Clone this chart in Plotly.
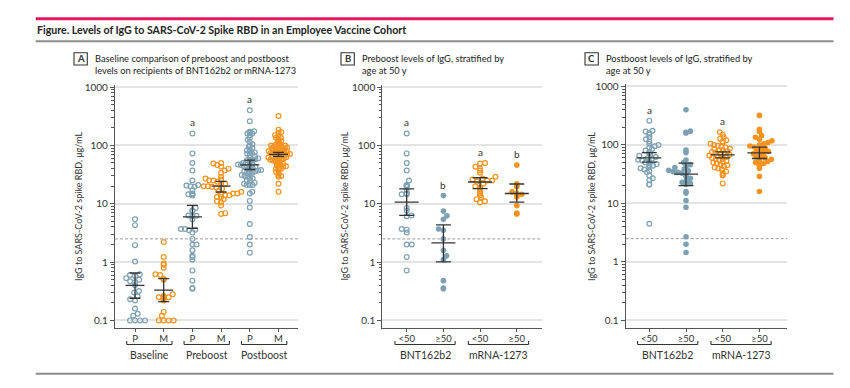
import numpy as np
import plotly.graph_objects as go

# ---------------- data (IgG, ug/mL) ----------------
baseline_P = [5.4, 4.3, 1.95, 1.02, 0.62, 0.6, 0.58, 0.53, 0.5, 0.47, 0.45, 0.4,
              0.32, 0.3, 0.26, 0.23, 0.22, 0.16, 0.13, 0.12, 0.1, 0.1, 0.1, 0.1]
baseline_M = [2.2, 1.22, 0.95, 0.9, 0.8, 0.62, 0.6, 0.52, 0.5, 0.28, 0.26, 0.26,
              0.25, 0.25, 0.25, 0.24, 0.22, 0.14, 0.12, 0.1, 0.1, 0.1, 0.1]

# Panel B: preboost, stratified by age
B_bnt_lt50 = [160, 73, 50, 37, 25, 21, 20.5, 20, 19.5, 17, 15, 14.5, 14.5, 8.5, 7.7,
              6.3, 6.1, 3.7, 3.6, 3.2, 2.0, 2.0, 1.22, 0.72]
B_bnt_ge50 = [13.8, 7.5, 6.2, 5.4, 3.7, 3.5, 2.5, 1.6, 1.28, 1.1, 0.48, 0.36, 0.35]
B_mrna_lt50 = [50, 49, 43, 40, 37, 34, 29, 27, 26, 25, 25, 24, 22, 20, 19, 18, 16.5,
               15, 14, 13, 12, 11, 10.5]
B_mrna_ge50 = [46, 22, 20, 19.5, 16, 15, 14.5, 14, 13, 9.3, 6.9, 6.7]

# Panel C: postboost, stratified by age
C_bnt_lt50 = [260, 175, 170, 160, 150, 135, 125, 115, 105, 100, 95, 90, 85, 80, 76,
              72, 68, 65, 62, 60, 58, 56, 54, 52, 50, 48, 47, 45, 44, 42, 40, 38, 36,
              34, 30, 27, 25, 21, 21, 4.5]
C_bnt_ge50 = [400, 172, 165, 160, 82, 74, 55, 50, 46, 43, 41, 39, 37, 36, 35, 34, 33,
              31, 29, 27, 25, 23, 22, 21, 16, 15, 11.2, 8.6, 2.7, 2.0, 1.45]
C_mrna_lt50 = [165, 150, 135, 128, 120, 115, 110, 105, 100, 97, 94, 90, 87, 85, 82,
               80, 78, 76, 74, 72, 70, 68, 66, 65, 63, 62, 60, 58, 57, 55, 53, 52, 50,
               48, 46, 45, 43, 41, 40, 38, 35, 33, 31, 30, 22]
C_mrna_ge50 = [320, 185, 170, 145, 135, 125, 118, 110, 105, 100, 96, 92, 88, 84, 80,
               77, 74, 71, 68, 65, 62, 60, 57, 55, 52, 50, 48, 46, 44, 40, 29, 16]

preboost_P = B_bnt_lt50 + B_bnt_ge50
preboost_M = B_mrna_lt50 + B_mrna_ge50
postboost_P = C_bnt_lt50 + C_bnt_ge50
postboost_M = C_mrna_lt50 + C_mrna_ge50

# geometric means with 95% CI
A_gm = [0.40, 0.33, 5.96, 20.0, 46.5, 70.0]
A_lo = [0.24, 0.21, 3.77, 15.9, 38.7, 65.0]
A_hi = [0.65, 0.52, 9.4, 24.2, 56.0, 76.0]
B_gm = [10.7, 2.13, 23.6, 15.0]
B_lo = [6.3, 1.01, 18.2, 10.7]
B_hi = [18.0, 4.35, 27.9, 21.8]
C_gm = [60.0, 31.8, 67.6, 73.0]
C_lo = [51.0, 20.2, 60.0, 58.6]
C_hi = [74.0, 48.9, 75.9, 92.0]

A_ticks = ["P", "M", "P", "M", "P", "M"]
A_groups = ["Baseline", "Preboost", "Postboost"]
BC_ticks = ["<50", "≥50", "<50", "≥50"]
BC_groups = ["BNT162b2", "mRNA-1273"]
A_letters = ["", "", "a", "", "a", ""]
B_letters = ["a", "b", "a", "b"]
C_letters = ["a", "", "a", ""]
threshold = 2.5
y_ticks = [0.1, 1, 10, 100, 1000]
y_ticktext = ["0.1", "1", "10", "100", "1000"]

title = "Figure. Levels of IgG to SARS-CoV-2 Spike RBD in an Employee Vaccine Cohort"
A_title = ["Baseline comparison of preboost and postboost",
           "levels on recipients of BNT162b2 or mRNA-1273"]
B_title = ["Preboost levels of IgG, stratified by", "age at 50 y"]
C_title = ["Postboost levels of IgG, stratified by", "age at 50 y"]
y_title = "IgG to SARS-CoV-2 spike RBD, μg/mL"

# ---------------- styling ----------------
W, H = 850, 388
BLUE = "#7ca1b4"
ORANGE = "#f6921e"
DARK = "#333333"
AX = "#555555"
GRID = "#e4e4e4"
FONT = "Lato, Liberation Sans, DejaVu Sans, sans-serif"


def pxx(p):
    return p / W


def pxy(p):
    return 1 - p / H


def swarm(vals, ydec, xunit):
    n = len(vals)
    D = 5.0 if n <= 25 else 5.0 * np.sqrt(25.0 / n)
    ys = np.log10(np.asarray(vals, float)) * ydec
    order = np.argsort(ys)
    placed = []
    xs = np.zeros(n)
    side = 1.0
    for i in order:
        y = ys[i]
        near = [(px, py) for px, py in placed if abs(py - y) < D]
        cands = [0.0]
        for px, py in near:
            dx = np.sqrt(D * D - (py - y) ** 2)
            cands += [px + dx, px - dx]
        cands = sorted(set(round(c, 4) for c in cands),
                       key=lambda c: (round(abs(c), 2), -side * c))
        chosen = 0.0
        for c in cands:
            if all((c - px) ** 2 + (y - py) ** 2 >= D * D - 1e-6 for px, py in near):
                chosen = c
                break
        if chosen != 0:
            side = -np.sign(chosen)
        xs[i] = chosen
        placed.append((chosen, y))
    return xs / xunit


panels = [
    dict(ax="", x0=115, x1=298, c0=135, step=28.7, ytop=81.7, ybot=327.7, dec=58.93,
         groups=[baseline_P, baseline_M, preboost_P, preboost_M, postboost_P, postboost_M],
         colors=[BLUE, ORANGE, BLUE, ORANGE, BLUE, ORANGE],
         filled=[False] * 6, gm=A_gm, lo=A_lo, hi=A_hi, ticks=A_ticks,
         gnames=A_groups, letters=A_letters, ext=0.29, mw=9.5, cw=5.5,
         ytitle_x=78.3, box=74, txt=93.3, ptitle=A_title, letter="A"),
    dict(ax="2", x0=382.3, x1=542, c0=406.7, step=36.7, ytop=81.7, ybot=327.7, dec=58.93,
         groups=[B_bnt_lt50, B_bnt_ge50, B_mrna_lt50, B_mrna_ge50],
         colors=[BLUE, BLUE, ORANGE, ORANGE],
         filled=[False, True, False, True], gm=B_gm, lo=B_lo, hi=B_hi, ticks=BC_ticks,
         gnames=BC_groups, letters=B_letters, ext=0.32, mw=12, cw=7.5,
         ytitle_x=345, box=341, txt=360, ptitle=B_title, letter="B"),
    dict(ax="3", x0=625.7, x1=787, c0=649.3, step=36.7, ytop=81.0, ybot=327.7, dec=59.1,
         groups=[C_bnt_lt50, C_bnt_ge50, C_mrna_lt50, C_mrna_ge50],
         colors=[BLUE, BLUE, ORANGE, ORANGE],
         filled=[False, True, False, True], gm=C_gm, lo=C_lo, hi=C_hi, ticks=BC_ticks,
         gnames=BC_groups, letters=C_letters, ext=0.32, mw=12, cw=7.5,
         ytitle_x=591.7, box=585, txt=604, ptitle=C_title, letter="C"),
]

fig = go.Figure()
shapes = []
annotations = []
layout = {}


def ann(**kw):
    d = dict(showarrow=False, xanchor="center", yanchor="middle")
    d.update(kw)
    annotations.append(d)


for P in panels:
    a = P["ax"]
    xr = [(P["x0"] - P["c0"]) / P["step"], (P["x1"] - P["c0"]) / P["step"]]
    bottom_log = -1 - 8.0 / P["dec"]
    top_log = bottom_log + (P["ybot"] - P["ytop"]) / P["dec"]
    ncat = len(P["groups"])
    for k, (vals, col, fil) in enumerate(zip(P["groups"], P["colors"], P["filled"])):
        off = swarm(vals, P["dec"], P["step"])
        fig.add_trace(go.Scatter(
            x=k + off, y=vals, mode="markers", xaxis="x" + a, yaxis="y" + a,
            marker=dict(symbol="circle" if fil else "circle-open",
                        size=5.6 if fil else 4.8, color=col,
                        line=dict(color=col, width=0 if fil else 1.2)),
            hoverinfo="y", showlegend=False))
    # threshold dashed line
    fig.add_trace(go.Scatter(x=xr, y=[threshold, threshold], mode="lines",
                             xaxis="x" + a, yaxis="y" + a,
                             line=dict(color="#9a9a9a", width=1, dash="3px,2px"),
                             hoverinfo="skip", showlegend=False))
    # error bars (geometric mean and 95% CI)
    mw, cw = P["mw"] / P["step"], P["cw"] / P["step"]
    ex, ey = [], []
    for k in range(ncat):
        g, l, h = P["gm"][k], P["lo"][k], P["hi"][k]
        ex += [k - mw, k + mw, None, k, k, None, k - cw, k + cw, None, k - cw, k + cw, None]
        ey += [g, g, None, l, h, None, l, l, None, h, h, None]
    fig.add_trace(go.Scatter(x=ex, y=ey, mode="lines", xaxis="x" + a, yaxis="y" + a,
                             line=dict(color=DARK, width=1.3), hoverinfo="skip",
                             showlegend=False))
    # significance letters
    for k, lab in enumerate(P["letters"]):
        if lab:
            ann(x=k, y=np.log10(max(P["groups"][k])) + 0.19, xref="x" + a, yref="y" + a,
                text=lab, font=dict(family=FONT, size=10, color=DARK))
    layout["xaxis" + a] = dict(
        domain=[pxx(P["x0"]), pxx(P["x1"])], range=xr, anchor="y" + a,
        tickmode="array", tickvals=list(range(ncat)), ticktext=P["ticks"],
        ticks="outside", ticklen=3, tickcolor=AX, showline=True, linecolor=AX,
        linewidth=1.2, showgrid=False, zeroline=False, ticklabelstandoff=-2,
        tickfont=dict(family=FONT, size=9.5, color=DARK), fixedrange=True)
    layout["yaxis" + a] = dict(
        domain=[pxy(P["ybot"]), pxy(P["ytop"])], type="log",
        range=[bottom_log, top_log], anchor="x" + a,
        tickmode="array", tickvals=y_ticks, ticktext=y_ticktext,
        ticks="outside", ticklen=4, tickcolor=AX, showline=True, linecolor=AX,
        linewidth=1.2, showgrid=True, gridcolor=GRID, gridwidth=1.6, zeroline=False,
        minor=dict(tickvals=[m * 10 ** e for e in range(-1, 3) for m in range(2, 10)],
                   ticks="outside", ticklen=2.5, tickcolor=AX, showgrid=False),
        tickfont=dict(family=FONT, size=10, color=DARK), fixedrange=True)
    # brackets + group labels
    for gi, gname in enumerate(P["gnames"]):
        c1, c2 = 2 * gi - P["ext"], 2 * gi + 1 + P["ext"]
        for sh in [(c1, c2, pxy(344), pxy(344)), (c1, c1, pxy(344), pxy(340.5)),
                   (c2, c2, pxy(344), pxy(340.5))]:
            shapes.append(dict(type="line", xref="x" + a, yref="paper", x0=sh[0], x1=sh[1],
                               y0=sh[2], y1=sh[3], line=dict(color=DARK, width=1.1)))
        ann(x=2 * gi + 0.5, y=pxy(354.5), xref="x" + a, yref="paper", text=gname,
            font=dict(family=FONT, size=10.5, color=DARK))
    # y-axis title
    ann(x=pxx(P["ytitle_x"]), y=pxy((P["ytop"] + P["ybot"]) / 2), xref="paper",
        yref="paper", text=y_title, textangle=-90,
        font=dict(family=FONT, size=9, color=DARK))
    # panel letter box and title
    shapes.append(dict(type="rect", xref="paper", yref="paper", x0=pxx(P["box"]),
                       x1=pxx(P["box"] + 13.3), y0=pxy(61.7), y1=pxy(49.3),
                       line=dict(color=DARK, width=1.1)))
    ann(x=pxx(P["box"] + 6.65), y=pxy(55.5), xref="paper", yref="paper",
        text="<b>%s</b>" % P["letter"], font=dict(family=FONT, size=9.5, color=DARK))
    for li, line in enumerate(P["ptitle"]):
        ann(x=pxx(P["txt"]), y=pxy(55.3 + 11.7 * li), xref="paper", yref="paper",
            text=line, xanchor="left", font=dict(family=FONT, size=9.3, color="#222"))

# figure title and rules
ann(x=pxx(35), y=pxy(26.7), xref="paper", yref="paper", text="<b>" + title + "</b>",
    xanchor="left", font=dict(family=FONT, size=10.6, color="#222"))
for yy, col, wd in [(15, "#e5175e", 3), (37.7, "#8c8c8c", 2), (373.7, "#8c8c8c", 2)]:
    shapes.append(dict(type="line", xref="paper", yref="paper", x0=pxx(35.7),
                       x1=pxx(833.5), y0=pxy(yy), y1=pxy(yy), line=dict(color=col, width=wd)))

fig.update_layout(
    width=W, height=H, margin=dict(l=0, r=0, t=0, b=0),
    paper_bgcolor="white", plot_bgcolor="white",
    font=dict(family=FONT, size=10, color=DARK),
    shapes=shapes, annotations=annotations, showlegend=False, **layout)

fig.write_html("out.html", config={"displayModeBar": False},
               post_script="document.body.style.margin='0px';")
